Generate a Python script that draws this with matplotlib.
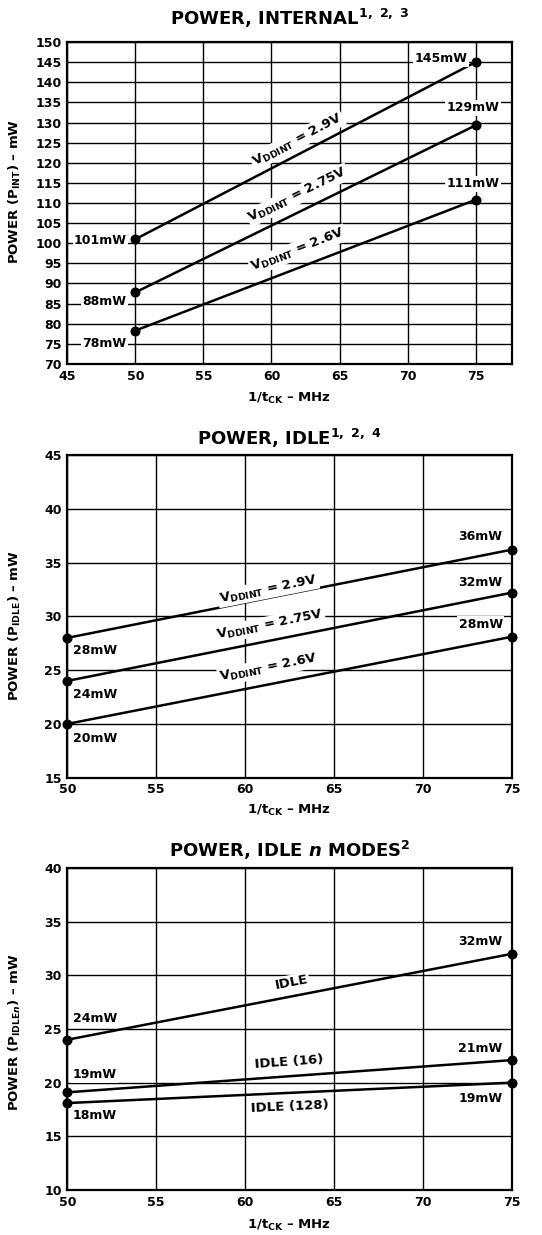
import numpy as np
import matplotlib
matplotlib.use("Agg")
import matplotlib.pyplot as plt

plt.rcParams['font.family'] = ['DejaVu Sans']
plt.rcParams['font.weight'] = 'bold'
plt.rcParams['mathtext.fontset'] = 'custom'
plt.rcParams['mathtext.rm'] = 'DejaVu Sans:bold'
plt.rcParams['mathtext.bf'] = 'DejaVu Sans:bold'
plt.rcParams['mathtext.it'] = 'DejaVu Sans:bold:italic'
plt.rcParams['mathtext.default'] = 'rm'

# ---------------- data ----------------
freq = [50, 75]

# Chart 1: internal power
int_29 = [101.0, 145.0]
int_275 = [87.8, 129.3]
int_26 = [78.3, 110.8]
int_labels_left = ["101mW", "88mW", "78mW"]
int_labels_right = ["145mW", "129mW", "111mW"]
int_series = ["V$_{\\mathrm{DDINT}}$ = 2.9V", "V$_{\\mathrm{DDINT}}$ = 2.75V", "V$_{\\mathrm{DDINT}}$ = 2.6V"]
int_xticks = [45, 50, 55, 60, 65, 70, 75]
int_yticks = list(range(70, 151, 5))

# Chart 2: idle power
idle_29 = [28.0, 36.2]
idle_275 = [24.0, 32.2]
idle_26 = [20.0, 28.1]
idle_labels_left = ["28mW", "24mW", "20mW"]
idle_labels_right = ["36mW", "32mW", "28mW"]
idle_series = ["V$_{\\mathrm{DDINT}}$ = 2.9V", "V$_{\\mathrm{DDINT}}$ = 2.75V", "V$_{\\mathrm{DDINT}}$ = 2.6V"]
idle_xticks = [50, 55, 60, 65, 70, 75]
idle_yticks = [15, 20, 25, 30, 35, 40, 45]

# Chart 3: idle n modes
idlen_idle = [24.0, 32.0]
idlen_16 = [19.1, 22.1]
idlen_128 = [18.1, 20.0]
idlen_labels_left = ["24mW", "19mW", "18mW"]
idlen_labels_right = ["32mW", "21mW", "19mW"]
idlen_series = ["IDLE", "IDLE (16)", "IDLE (128)"]
idlen_yticks = [10, 15, 20, 25, 30, 35, 40]

W, H = 542, 1235
fig = plt.figure(figsize=(W / 100, H / 100), dpi=100)


def px_axes(left, top, right, bottom):
    return fig.add_axes([left / W, 1 - bottom / H, (right - left) / W, (bottom - top) / H])


BOX = dict(facecolor='white', edgecolor='none', pad=1.0)
FS_TICK = 9
FS_LBL = 9
FS_SER = 9.5
FS_AX = 9.5
FS_TITLE = 13


def style(ax, xlim, ylim, xticks, yticks):
    ax.set_xlim(*xlim)
    ax.set_ylim(*ylim)
    ax.set_xticks(xticks)
    ax.set_yticks(yticks)
    ax.tick_params(length=0, pad=4, labelsize=FS_TICK)
    for lab in ax.get_xticklabels() + ax.get_yticklabels():
        lab.set_fontweight('bold')
    ax.grid(True, color='black', lw=1.0)
    ax.set_axisbelow(True)
    for sp in ax.spines.values():
        sp.set_linewidth(1.6)


def draw_line(ax, y):
    ax.plot(freq, y, color='black', lw=1.8, marker='o', ms=6.2, zorder=4, clip_on=False)


def point_label(ax, x, y, s, dx, dy, ha):
    ax.annotate(s, (x, y), xytext=(dx, dy), textcoords='offset points', ha=ha, va='center',
                fontsize=FS_LBL, fontweight='bold', bbox=BOX, zorder=5)


def series_label(ax, xv, yv, s, lx, ly):
    p0 = ax.transData.transform((xv[0], yv[0]))
    p1 = ax.transData.transform((xv[1], yv[1]))
    ang = np.degrees(np.arctan2(p1[1] - p0[1], p1[0] - p0[0]))
    ax.text(lx, ly, s, rotation=ang, rotation_mode='anchor', ha='center', va='center',
            fontsize=FS_SER, fontweight='bold', bbox=BOX, zorder=5)


def labels(ax, xlab, ylab, xly, yly):
    ax.set_xlabel(xlab, fontsize=FS_AX, fontweight='bold')
    ax.set_ylabel(ylab, fontsize=FS_AX, fontweight='bold')
    ax.xaxis.set_label_coords(0.5, xly)
    ax.yaxis.set_label_coords(-0.117, yly)
    ax.xaxis.label.set_va('center')
    ax.yaxis.label.set_va('center')


XLAB = "1/t$_{\\mathrm{CK}}$ – MHz"

# ---------------- chart 1 ----------------
ax1 = px_axes(67.3, 42, 511.7, 364)
style(ax1, (45, 77.65), (70, 150), int_xticks, int_yticks)
for y in (int_29, int_275, int_26):
    draw_line(ax1, y)
point_label(ax1, freq[1], int_29[1], int_labels_right[0], -6, 2.5, 'right')
point_label(ax1, freq[1], int_275[1], int_labels_right[1], -2, 12.5, 'center')
point_label(ax1, freq[1], int_26[1], int_labels_right[2], -2, 11.5, 'center')
point_label(ax1, freq[0], int_29[0], int_labels_left[0], -6, -0.7, 'right')
point_label(ax1, freq[0], int_275[0], int_labels_left[1], -6.5, -6.8, 'right')
point_label(ax1, freq[0], int_26[0], int_labels_left[2], -6.5, -9.6, 'right')
series_label(ax1, freq, int_29, int_series[0], 61.9, 125.7)
series_label(ax1, freq, int_275, int_series[1], 61.95, 112.0)
series_label(ax1, freq, int_26, int_series[2], 61.95, 98.3)
labels(ax1, XLAB, "POWER (P$_{\\mathrm{INT}}$) – mW", -0.106, 0.537)
fig.text(289.5 / W, 1 - 18 / H, "POWER, INTERNAL$^{1,\\ 2,\\ 3}$", ha='center', va='center',
         fontsize=FS_TITLE, fontweight='bold')

# ---------------- chart 2 ----------------
ax2 = px_axes(67.3, 455, 511.7, 777.7)
style(ax2, (50, 75), (15, 45), idle_xticks, idle_yticks)
for y in (idle_29, idle_275, idle_26):
    draw_line(ax2, y)
point_label(ax2, freq[1], idle_29[1], idle_labels_right[0], -6.5, 9.4, 'right')
point_label(ax2, freq[1], idle_275[1], idle_labels_right[1], -6.5, 7.2, 'right')
point_label(ax2, freq[1], idle_26[1], idle_labels_right[2], -6.5, 9.1, 'right')
point_label(ax2, freq[0], idle_29[0], idle_labels_left[0], 4, -9.1, 'left')
point_label(ax2, freq[0], idle_275[0], idle_labels_left[1], 4, -10, 'left')
point_label(ax2, freq[0], idle_26[0], idle_labels_left[2], 4, -10.3, 'left')
series_label(ax2, freq, idle_29, idle_series[0], 61.3, 32.5)
series_label(ax2, freq, idle_275, idle_series[1], 61.4, 29.2)
series_label(ax2, freq, idle_26, idle_series[2], 61.3, 25.2)
labels(ax2, XLAB, "POWER (P$_{\\mathrm{IDLE}}$) – mW", -0.1, 0.473)
fig.text(289.5 / W, 1 - 438 / H, "POWER, IDLE$^{1,\\ 2,\\ 4}$", ha='center', va='center',
         fontsize=FS_TITLE, fontweight='bold')

# ---------------- chart 3 ----------------
ax3 = px_axes(67.3, 868, 511.7, 1190)
style(ax3, (50, 75), (10, 40), idle_xticks, idlen_yticks)
for y in (idlen_idle, idlen_16, idlen_128):
    draw_line(ax3, y)
point_label(ax3, freq[1], idlen_idle[1], idlen_labels_right[0], -6.5, 8.8, 'right')
point_label(ax3, freq[1], idlen_16[1], idlen_labels_right[1], -6.5, 8.2, 'right')
point_label(ax3, freq[1], idlen_128[1], idlen_labels_right[2], -6.5, -11.5, 'right')
point_label(ax3, freq[0], idlen_idle[0], idlen_labels_left[0], 4, 15.5, 'left')
point_label(ax3, freq[0], idlen_16[0], idlen_labels_left[1], 4, 12.5, 'left')
point_label(ax3, freq[0], idlen_128[0], idlen_labels_left[2], 4, -9.1, 'left')
series_label(ax3, freq, idlen_idle, idlen_series[0], 62.6, 29.3)
series_label(ax3, freq, idlen_16, idlen_series[1], 62.5, 21.96)
series_label(ax3, freq, idlen_128, idlen_series[2], 62.5, 17.76)
labels(ax3, XLAB, "POWER (P$_{\\mathrm{IDLE}\\mathit{n}}$) – mW", -0.109, 0.49)
fig.text(289.5 / W, 1 - 850 / H, "POWER, IDLE $\\mathit{n}$ MODES$^{2}$", ha='center', va='center',
         fontsize=FS_TITLE, fontweight='bold')

fig.savefig("out.png", dpi=100)
